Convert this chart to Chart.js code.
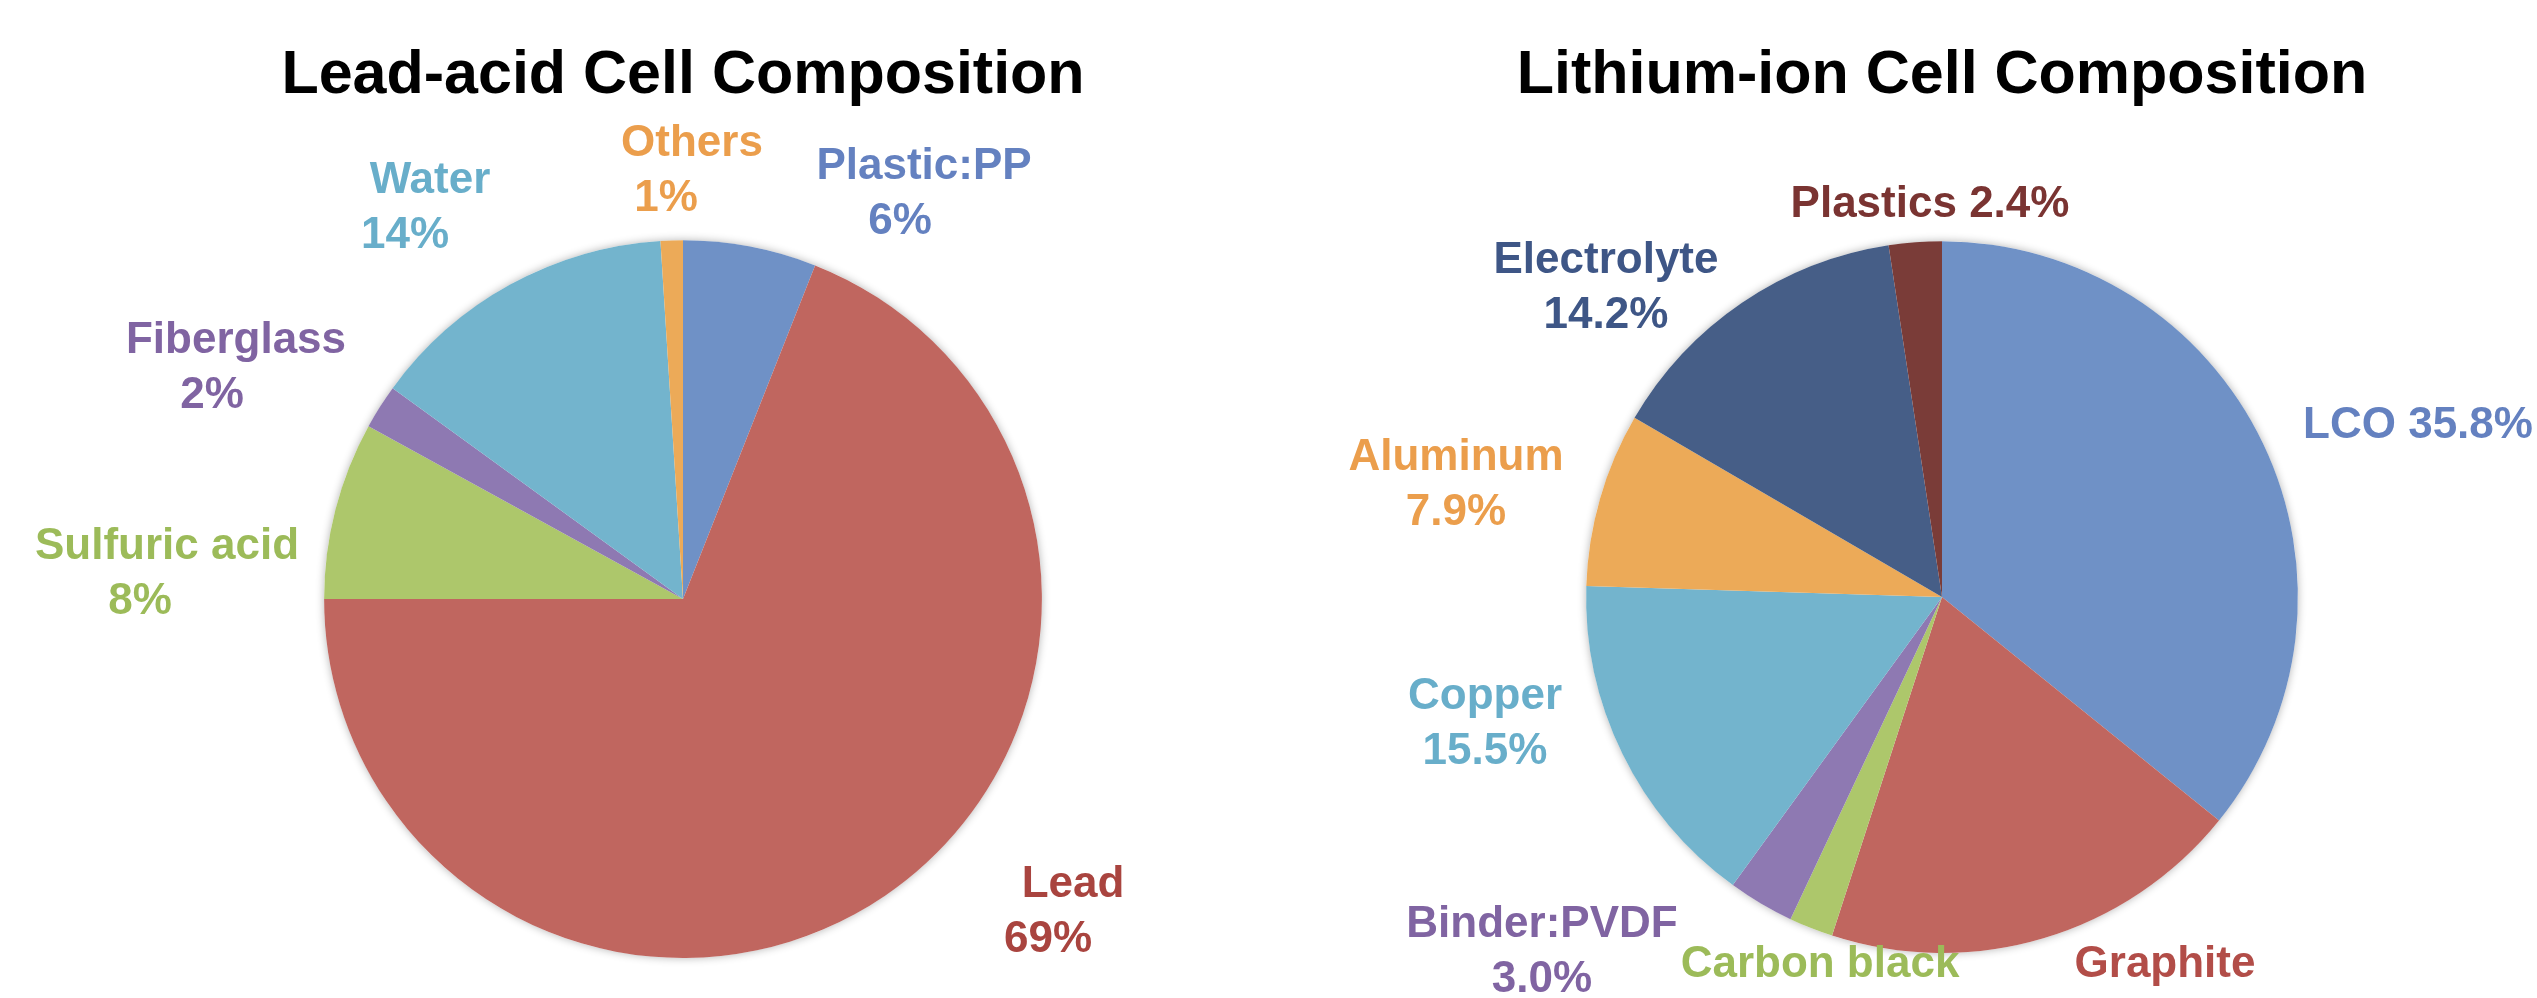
<!DOCTYPE html>
<html>
<head>
<meta charset="utf-8">
<script src="https://cdn.jsdelivr.net/npm/chart.js"></script>
<style>
  html, body { margin: 0; padding: 0; background: #ffffff; overflow: hidden; }
  #wrap { position: relative; width: 2537px; height: 998px; }
  canvas { position: absolute; left: 0; top: 0; }
</style>
</head>
<body>
<div id="wrap">
  <canvas id="leadPie" width="2537" height="998"></canvas>
  <canvas id="liPie" width="2537" height="998"></canvas>
</div>
<script>
// Lead-acid cell, clockwise from 12 o'clock
const leadNames = ["Plastic:PP", "Lead", "Sulfuric acid", "Fiberglass", "Water", "Others"];
const leadValues = [6, 69, 8, 2, 14, 1];

// Lithium-ion cell, clockwise from 12 o'clock
const liNames = ["LCO", "Graphite", "Carbon black", "Binder:PVDF", "Copper", "Aluminum", "Electrolyte", "Plastics"];
const liValues = [35.8, 19.2, 2.0, 3.0, 15.5, 7.9, 14.2, 2.4];

const leadFill = ["#6f91c6", "#c0665f", "#adc76b", "#8e79b2", "#73b4cd", "#ecaa58"];
const leadText = ["#6481c0", "#a9443f", "#9cbb59", "#8064a2", "#68aeca", "#eb9e4c"];
const liFill = ["#6f91c6", "#c0665f", "#adc76b", "#8e79b2", "#73b4cd", "#ecaa58", "#465e87", "#7a3c38"];
const liText = ["#6481c0", "#b24d48", "#9cbb59", "#8064a2", "#68aeca", "#eb9e4c", "#3e5686", "#7a3432"];

const FONT = '"Liberation Sans", Arial, sans-serif';
Chart.defaults.font.family = FONT;

// label placement, px from pie centre: [dx, dy, style, second line x shift]
const leadSpots = [[241, -432, "two", -24], [390, 286, "two", -25], [-516, -52, "two", -27],
                   [-447, -258, "two", -24], [-253, -418, "two", -25], [9, -455, "two", -26]];
const liSpots = [[476, -171, "one", 0], [223, 368, "name", 0], [-122, 368, "name", 0],
                 [-400, 328, "two", 0], [-457, 100, "two", 0], [-486, -139, "two", 0],
                 [-336, -336, "two", 0], [-12, -392, "one", 0]];

const pieShadow = {
    id: "pieShadow",
    beforeDatasetsDraw(chart) {
        const arc = chart.getDatasetMeta(0).data[0];
        const ctx = chart.ctx;
        ctx.save();
        ctx.shadowColor = "rgba(0,0,0,0.3)";
        ctx.shadowBlur = 9;
        ctx.fillStyle = "#ffffff";
        ctx.beginPath();
        ctx.arc(arc.x, arc.y, arc.outerRadius, 0, Math.PI * 2);
        ctx.fill();
        ctx.restore();
    }
};

function labelPlugin(names, values, colors, spots, digits) {
    return {
        id: "sliceLabels",
        afterDatasetsDraw(chart) {
            const arc = chart.getDatasetMeta(0).data[0];
            const ctx = chart.ctx;
            ctx.save();
            ctx.font = "bold 44px " + FONT;
            ctx.textAlign = "center";
            ctx.textBaseline = "middle";
            names.forEach((name, i) => {
                const [dx, dy, style, shift] = spots[i];
                const pct = values[i].toFixed(digits) + "%";
                let lines = [name, pct];
                if (style === "one") lines = [name + " " + pct];
                if (style === "name") lines = [name];
                ctx.fillStyle = colors[i];
                lines.forEach((line, j) => {
                    ctx.fillText(line, arc.x + dx + j * shift, arc.y + dy + j * 55);
                });
            });
            ctx.restore();
        }
    };
}

function makePie(id, names, values, fills, title, padding, titlePad, labels) {
    return new Chart(document.getElementById(id), {
        type: "pie",
        data: {
            labels: names,
            datasets: [{
                data: values,
                backgroundColor: fills,
                borderWidth: 0,
                hoverOffset: 0
            }]
        },
        options: {
            responsive: false,
            animation: false,
            events: [],
            layout: { padding: padding },
            plugins: {
                legend: { display: false },
                tooltip: { enabled: false },
                title: {
                    display: true,
                    text: title,
                    color: "#000000",
                    font: { size: 61, weight: "bold", family: FONT },
                    padding: titlePad
                }
            }
        },
        plugins: [pieShadow, labels]
    });
}

makePie("leadPie", leadNames, leadValues, leadFill, "Lead-acid Cell Composition",
    { left: 0, right: 1171, top: 0, bottom: 40 }, { top: 40, bottom: 127 },
    labelPlugin(leadNames, leadValues, leadText, leadSpots, 0));

makePie("liPie", liNames, liValues, liFill, "Lithium-ion Cell Composition",
    { left: 1347, right: 0, top: 0, bottom: 45 }, { top: 40, bottom: 128 },
    labelPlugin(liNames, liValues, liText, liSpots, 1));
</script>
</body>
</html>
